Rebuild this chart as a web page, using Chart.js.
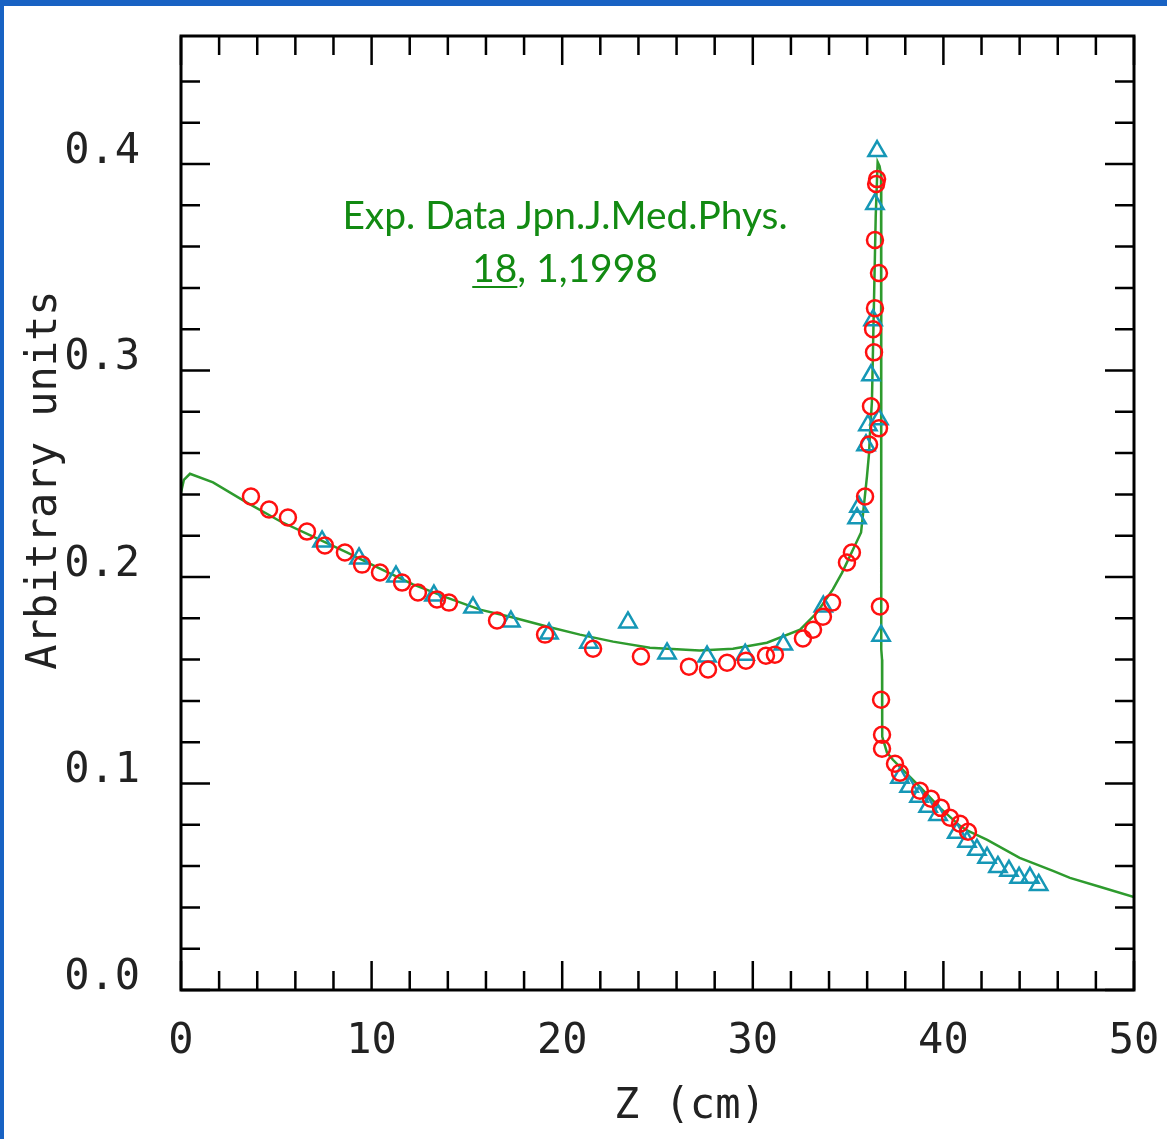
<!DOCTYPE html>
<html>
<head>
<meta charset="utf-8">
<script src="https://cdn.jsdelivr.net/npm/chart.js@4.4.1/dist/chart.umd.min.js"></script>
<style>
  html, body { margin: 0; padding: 0; background: #fff; }
  #wrap { position: relative; width: 1167px; height: 1139px; }
  canvas { display: block; }
</style>
</head>
<body>
<div id="wrap"><canvas id="dose" width="1167" height="1139"></canvas></div>
<script>
// simulation curve (green line)
const simZ = [0, 0.15, 0.47, 1.68, 3.46, 5.2, 6.93, 8.7, 10.44, 12.17, 13.95, 15.69, 17.42, 19.2, 20.93,
  22.67, 24.6, 27.2, 28.96, 30.74, 32.48, 33.37, 34.2, 34.68, 35.68, 35.99, 36.1, 36.15, 36.25, 36.35,
  36.45, 36.55, 36.65, 36.73, 36.74, 36.78, 36.79, 37.04, 37.35, 37.72, 38.77, 39.82, 40.87, 41.3,
  42.3, 44.0, 45.75, 46.64, 48.2, 50];
const simV = [0.241, 0.247, 0.250, 0.2458, 0.236, 0.227, 0.2196, 0.2119, 0.2041, 0.1964, 0.190, 0.1842,
  0.1804, 0.176, 0.1721, 0.1687, 0.1658, 0.1644, 0.1653, 0.1682, 0.1745, 0.1828, 0.194, 0.202, 0.2216,
  0.2487, 0.26, 0.27, 0.285, 0.33, 0.375, 0.401, 0.399, 0.395, 0.165, 0.16, 0.1227, 0.115, 0.1115,
  0.108, 0.0984, 0.0882, 0.0795, 0.077, 0.0727, 0.064, 0.0577, 0.0543, 0.050, 0.045];

// experimental data, red circles
const redZ = [3.67, 4.62, 5.61, 6.61, 7.55, 8.6, 9.5, 10.44, 11.6, 12.43, 13.43, 14.06, 16.58, 19.1,
  21.62, 24.13, 26.65, 27.65, 28.65, 29.64, 30.69, 31.16, 32.63, 33.16, 33.68, 34.16, 34.94, 35.2,
  35.89, 36.1, 36.2, 36.36, 36.31, 36.41, 36.62, 36.41, 36.47, 36.52, 36.62, 36.67, 36.73, 36.78,
  36.78, 37.46, 37.72, 38.77, 39.35, 39.87, 40.35, 40.87, 41.29];
const redV = [0.239, 0.2327, 0.2288, 0.222, 0.2153, 0.2119, 0.206, 0.2022, 0.1973, 0.1925, 0.1891,
  0.1876, 0.1789, 0.1721, 0.1653, 0.1615, 0.1566, 0.1552, 0.1585, 0.1595, 0.1619, 0.1624, 0.1702,
  0.1745, 0.1808, 0.1876, 0.207, 0.2119, 0.239, 0.2642, 0.2827, 0.3088, 0.32, 0.3302, 0.3472, 0.3632,
  0.3903, 0.3927, 0.272, 0.1857, 0.1406, 0.1236, 0.1168, 0.1096, 0.1052, 0.0965, 0.0926, 0.0882,
  0.0834, 0.0805, 0.0766];

// experimental data, blue triangles
const blueZ = [7.4, 9.34, 11.28, 13.27, 15.32, 17.31, 19.31, 21.4, 23.45, 25.5, 27.6, 29.6, 31.6, 33.7,
  35.47, 35.57, 35.94, 36.04, 36.2, 36.31, 36.41, 36.52, 36.62, 36.73, 37.72, 38.2, 38.72, 39.2,
  39.72, 40.7, 41.24, 41.76, 42.29, 42.86, 43.44, 43.97, 44.54, 45.0];
const blueV = [0.2172, 0.209, 0.2002, 0.191, 0.1852, 0.1784, 0.1726, 0.1682, 0.178, 0.163, 0.1615,
  0.1624, 0.1673, 0.1857, 0.2284, 0.234, 0.2638, 0.2735, 0.2977, 0.3244, 0.3806, 0.4063, 0.2764,
  0.1716, 0.1028, 0.0984, 0.0936, 0.0887, 0.0848, 0.0761, 0.0718, 0.0679, 0.064, 0.0596, 0.0577,
  0.0543, 0.0543, 0.0509];

const xTitle = "Z (cm)";
const yTitle = "Arbitrary units";
const noteLine1 = "Exp. Data Jpn.J.Med.Phys.";
const noteVol = "18";
const noteRest = ", 1,1998";

const pts = (zs, vs) => zs.map((z, i) => ({ x: z, y: vs[i] }));
const onStep = (v, s) => Math.abs(v / s - Math.round(v / s)) < 1e-6;

const frame = {
  id: "frame",
  beforeDraw(chart) {
    const ctx = chart.ctx;
    ctx.save();
    ctx.fillStyle = "#fff";
    ctx.fillRect(0, 0, chart.width, chart.height);
    ctx.fillStyle = "#1862c3";
    ctx.fillRect(0, 0, chart.width, 6);
    ctx.fillRect(0, 0, 4, chart.height);
    ctx.restore();
  },
  afterDraw(chart) {
    const { ctx, chartArea: a, scales: { x, y } } = chart;
    ctx.save();
    ctx.strokeStyle = "#000";
    ctx.lineWidth = 3;
    ctx.strokeRect(a.left, a.top, a.right - a.left, a.bottom - a.top);

    // inward ticks on all four sides
    ctx.lineWidth = 2.5;
    ctx.beginPath();
    x.ticks.forEach(t => {
      if (!onStep(t.value, 2)) return;
      const px = x.getPixelForValue(t.value);
      const len = onStep(t.value, 10) ? 29 : 19;
      ctx.moveTo(px, a.bottom); ctx.lineTo(px, a.bottom - len);
      ctx.moveTo(px, a.top); ctx.lineTo(px, a.top + len);
    });
    y.ticks.forEach(t => {
      if (!onStep(t.value, 0.02)) return;
      const py = y.getPixelForValue(t.value);
      const len = onStep(t.value, 0.1) ? 29 : 19;
      ctx.moveTo(a.left, py); ctx.lineTo(a.left + len, py);
      ctx.moveTo(a.right, py); ctx.lineTo(a.right - len, py);
    });
    ctx.stroke();

    // axis titles
    ctx.fillStyle = "#222";
    ctx.font = "42px 'DejaVu Sans Mono'";
    ctx.textBaseline = "middle";
    ctx.textAlign = "left";
    ctx.fillText(xTitle, 614, 1107);
    ctx.save();
    ctx.translate(45, 480);
    ctx.rotate(-Math.PI / 2);
    ctx.textAlign = "center";
    ctx.fillText(yTitle, 0, 0);
    ctx.restore();

    // green reference note
    ctx.fillStyle = "#128a12";
    ctx.strokeStyle = "#128a12";
    ctx.textBaseline = "alphabetic";
    ctx.font = "36px Lato";
    const size = 36 * 445 / ctx.measureText(noteLine1).width;
    ctx.font = size.toFixed(1) + "px Lato";
    ctx.textAlign = "center";
    ctx.fillText(noteLine1, 565, 229);
    const wVol = ctx.measureText(noteVol).width;
    const wAll = ctx.measureText(noteVol + noteRest).width;
    const x0 = 565 - wAll / 2;
    ctx.textAlign = "left";
    ctx.fillText(noteVol, x0, 282);
    ctx.fillText(noteRest, x0 + wVol, 282);
    ctx.lineWidth = 2;
    ctx.beginPath();
    ctx.moveTo(x0, 287); ctx.lineTo(x0 + wVol, 287);
    ctx.stroke();
    ctx.restore();
  }
};

const tickFont = { family: "'DejaVu Sans Mono'", size: 42 };
const noScalePad = s => { s.paddingTop = 0; s.paddingBottom = 0; s.paddingLeft = 0; s.paddingRight = 0; };

new Chart(document.getElementById("dose"), {
  type: "scatter",
  data: {
    datasets: [
      {
        label: "Exp. data (circles)",
        data: pts(redZ, redV),
        pointStyle: "circle",
        pointRadius: 8,
        borderColor: "#ff1010",
        backgroundColor: "rgba(0,0,0,0)",
        borderWidth: 2.5,
      },
      {
        label: "Exp. data (triangles)",
        data: pts(blueZ, blueV),
        pointStyle: "triangle",
        pointRadius: 10,
        borderColor: "#1597b6",
        backgroundColor: "rgba(0,0,0,0)",
        borderWidth: 2.5,
      },
      {
        label: "Simulation",
        data: pts(simZ, simV),
        showLine: true,
        pointRadius: 0,
        borderColor: "#2e9b2e",
        borderWidth: 2.5,
        tension: 0,
      },
    ],
  },
  options: {
    responsive: false,
    animation: false,
    layout: { padding: { top: 36, right: 33, left: 0, bottom: 0 } },
    plugins: { legend: { display: false }, tooltip: { enabled: false } },
    scales: {
      x: {
        type: "linear",
        min: 0,
        max: 50,
        grid: { display: false, drawTicks: false },
        border: { display: false },
        ticks: {
          stepSize: 2,
          padding: 27,
          maxRotation: 0,
          autoSkip: false,
          color: "#222",
          font: tickFont,
          callback: v => (onStep(v, 10) ? String(v) : ""),
        },
        afterFit: s => { s.height = 149; noScalePad(s); },
      },
      y: {
        type: "linear",
        min: 0,
        max: 0.462,
        grid: { display: false, drawTicks: false },
        border: { display: false },
        ticks: {
          stepSize: 0.02,
          padding: 41,
          labelOffset: -12,
          autoSkip: false,
          color: "#222",
          font: tickFont,
          callback: v => (onStep(v, 0.1) ? v.toFixed(1) : ""),
        },
        afterFit: s => { s.width = 181; noScalePad(s); },
      },
    },
  },
  plugins: [frame],
});
</script>
</body>
</html>
